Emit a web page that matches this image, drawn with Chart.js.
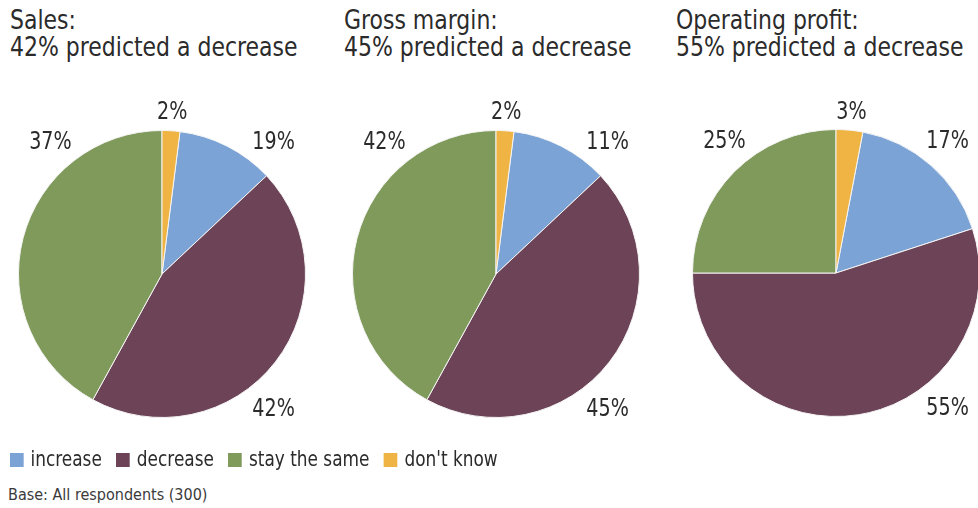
<!DOCTYPE html>
<html>
<head>
<meta charset="utf-8">
<script src="https://cdn.jsdelivr.net/npm/chart.js@4/dist/chart.umd.min.js"></script>
<style>
  body { margin: 0; width: 978px; height: 508px; overflow: hidden; background: #fff;
         font-family: "DejaVu Sans Condensed", "Liberation Sans", sans-serif; color: #2b2b2b; }
  .title { position: absolute; top: 6px; font-size: 27px; line-height: 27px; white-space: nowrap;
           transform: scaleX(0.905); transform-origin: left top; }
  canvas { position: absolute; }
  #legend { position: absolute; left: 10px; top: 446px; font-size: 22px; white-space: nowrap;
            transform: scaleX(0.855); transform-origin: left top; }
  #legend span.item { display: inline-block; margin-right: 17px; }
  #legend span.box { display: inline-block; width: 16px; height: 14px; margin-right: 8px; vertical-align: -1px; }
  #base { position: absolute; left: 8px; top: 485px; font-size: 16px; color: #3a3a3a; }
</style>
</head>
<body>
<div class="title" style="left:10px">Sales:<br>42% predicted a decrease</div>
<div class="title" style="left:344px">Gross margin:<br>45% predicted a decrease</div>
<div class="title" style="left:676px">Operating profit:<br>55% predicted a decrease</div>

<canvas id="pie1" width="340" height="360" style="left:-8px; top:94px"></canvas>
<canvas id="pie2" width="340" height="360" style="left:326px; top:94px"></canvas>
<canvas id="pie3" width="340" height="360" style="left:666px; top:93px"></canvas>

<div id="legend"></div>
<div id="base">Base: All respondents (300)</div>

<script>
// categories in legend order
const categories = ['increase', 'decrease', 'stay the same', "don't know"];
const colors = ['#7ba3d5', '#6c4357', '#7f9a5a', '#efb443'];

// printed percentages per pie, same order as categories
const salesValues = [19, 42, 37, 2];
const grossMarginValues = [11, 45, 42, 2];
const operatingProfitValues = [17, 55, 25, 3];

// NOTE: in the source picture the Sales pie is drawn with the same slice
// sizes as Gross margin (11/45/42/2), although its labels read 19/42/37/2.
// The slices below follow what is drawn; the labels follow what is printed.
const salesSlices = [11, 45, 42, 2];

// percentage labels outside the pie
const pctLabels = {
    id: 'pctLabels',
    afterDatasetsDraw(chart, args, opts) {
        const ctx = chart.ctx;
        const meta = chart.getDatasetMeta(0);
        const values = chart.data.datasets[0].data;
        const texts = opts.texts || values;
        const total = values.reduce((a, b) => a + b, 0);
        meta.data.forEach((arc, i) => {
            const p = arc.getProps(['x', 'y', 'startAngle', 'endAngle', 'outerRadius'], true);
            let deg = ((p.startAngle + p.endAngle) / 2 + Math.PI / 2) * 180 / Math.PI;
            deg = ((deg % 360) + 360) % 360;
            let dist = p.outerRadius * 1.14;
            if (values[i] / total >= 0.05) {
                // big slices: label sits at nearest diagonal
                const spots = [40, 140, 220, 320];
                deg = spots.reduce((best, s) => Math.abs(s - deg) < Math.abs(best - deg) ? s : best, spots[0]);
                dist = p.outerRadius * 1.21;
            }
            const r = deg * Math.PI / 180;
            ctx.save();
            ctx.translate(p.x + dist * Math.sin(r), p.y - dist * Math.cos(r) + 2);
            ctx.scale(0.85, 1);
            ctx.font = '25px "DejaVu Sans Condensed", sans-serif';
            ctx.fillStyle = '#2b2b2b';
            ctx.textAlign = 'center';
            ctx.textBaseline = 'middle';
            ctx.fillText(texts[i] + '%', 0, 0);
            ctx.restore();
        });
    }
};

function createPie(id, slices, texts) {
    const ctx = document.getElementById(id).getContext('2d');
    // "don't know" slice starts at 12 o'clock, then increase, decrease, stay the same
    const total = slices.reduce((a, b) => a + b, 0);
    const rotation = slices[3] / total * 360;
    return new Chart(ctx, {
        type: 'pie',
        data: {
            labels: categories,
            datasets: [{
                data: slices,
                backgroundColor: colors,
                borderColor: '#f4f4f4',
                borderWidth: 1
            }]
        },
        options: {
            responsive: false,
            animation: false,
            rotation: rotation,
            layout: { padding: { left: 26, right: 26, top: 36, bottom: 36 } },
            plugins: {
                legend: { display: false },
                tooltip: { enabled: false },
                pctLabels: { texts: texts }
            }
        },
        plugins: [pctLabels]
    });
}

createPie('pie1', salesSlices, salesValues);
createPie('pie2', grossMarginValues, grossMarginValues);
createPie('pie3', operatingProfitValues, operatingProfitValues);

// shared legend
const legend = document.getElementById('legend');
categories.forEach((c, i) => {
    const item = document.createElement('span');
    item.className = 'item';
    item.innerHTML = '<span class="box" style="background:' + colors[i] + '"></span>' + c;
    legend.appendChild(item);
});
</script>
</body>
</html>
